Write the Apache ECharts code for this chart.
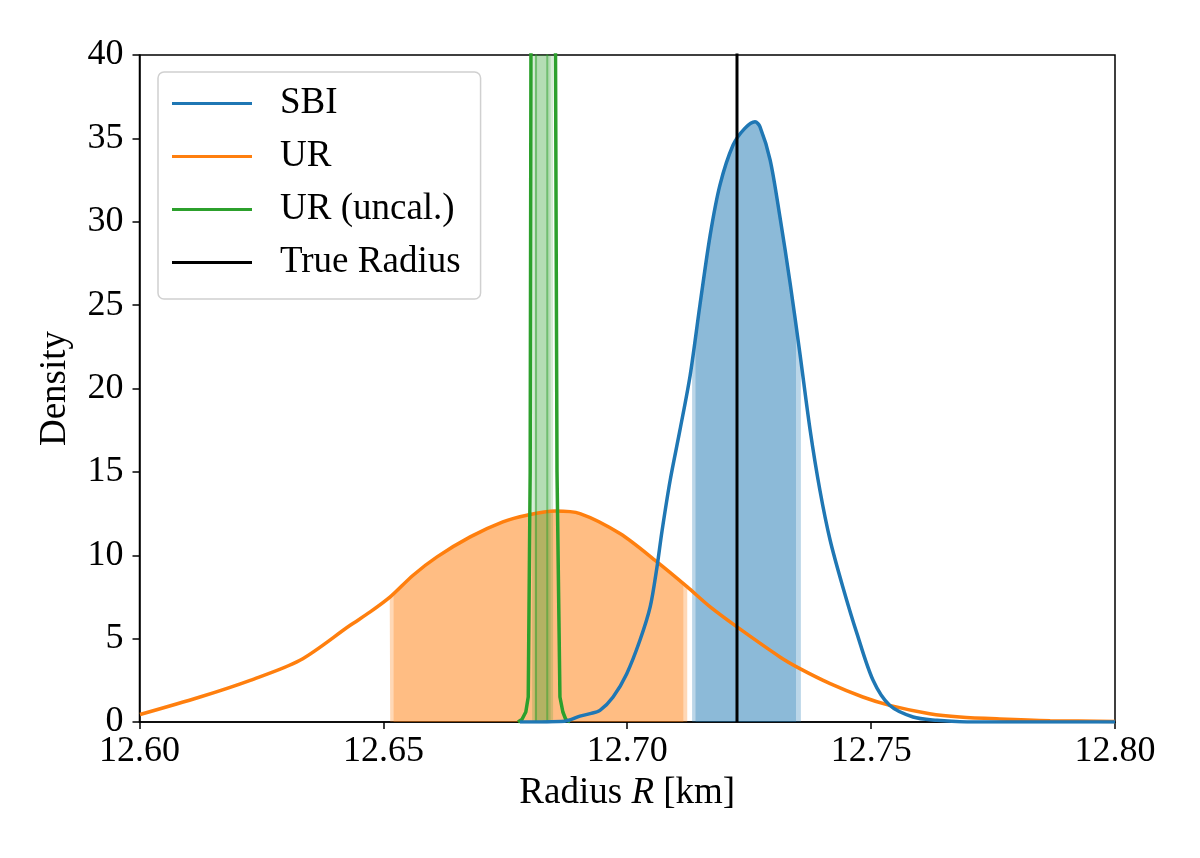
<!DOCTYPE html>
<html>
<head>
<meta charset="utf-8">
<script src="https://cdn.jsdelivr.net/npm/echarts@6/dist/echarts.min.js"></script>
<style>
  html, body { margin: 0; padding: 0; background: #fff; }
  #main { width: 1200px; height: 858px; }
</style>
</head>
<body>
<div id="main"></div>
<script>
// x ticks
var xTicks = [12.60, 12.65, 12.70, 12.75, 12.80];

// SBI density curve
var sbiR = [12.6780, 12.6872, 12.6903, 12.6924, 12.6944, 12.6971, 12.6999, 12.7026, 12.7047, 12.7061,
            12.7071, 12.7088, 12.7108, 12.7129, 12.7149, 12.7170, 12.7190, 12.7217, 12.7241, 12.7262,
            12.7272, 12.7293, 12.7313, 12.7334, 12.7354, 12.7375, 12.7395, 12.7416, 12.7442, 12.7471,
            12.7504, 12.7538, 12.7586, 12.7635, 12.7682, 12.7764, 12.8000];
var sbiD = [0, 0.05, 0.35, 0.5, 0.7, 1.5, 2.9, 4.9, 6.9, 9.3,
            11.4, 14.5, 17.5, 20.8, 25.0, 29.2, 32.2, 34.6, 35.6, 36.0,
            35.7, 33.7, 30.3, 26.3, 22.1, 17.5, 13.9, 10.9, 8.1, 5.3,
            2.5, 1.0, 0.3, 0.1, 0.02, 0, 0];
// SBI interval fills: [left R, left D, right R, right D]
var sbiBandWide = [12.7133, 21.6, 12.7356, 21.7];
var sbiBandNarrow = [12.7140, 23.2, 12.7346, 23.7];

// UR density curve
var urR = [12.6001, 12.6124, 12.6227, 12.6329, 12.6432, 12.6473, 12.6514, 12.6561, 12.6610, 12.6678,
           12.6745, 12.6794, 12.6852, 12.6903, 12.6985, 12.7061, 12.7123, 12.7170, 12.7225, 12.7313,
           12.7354, 12.7416, 12.7483, 12.7538, 12.7620, 12.7682, 12.7764, 12.7867, 12.8000];
var urD = [0.45, 1.5, 2.5, 3.7, 5.8, 6.6, 7.5, 8.8, 9.9, 11.1,
           12.0, 12.4, 12.65, 12.5, 11.3, 9.6, 8.1, 6.9, 5.7, 3.9,
           3.2, 2.3, 1.5, 1.0, 0.5, 0.3, 0.18, 0.08, 0.03];
var urBandWide = [12.6513, 7.45, 12.7123, 8.1];
var urBandNarrow = [12.6521, 7.7, 12.7115, 8.3];

// UR (uncal.) - very narrow peak, runs far above the top of the axis
var ucR = [12.6776, 12.6784, 12.6792, 12.6797, 12.6801, 12.6805, 12.6848, 12.6856, 12.6862, 12.6868, 12.6874, 12.6883];
var ucD = [0, 0.15, 0.6, 1.5, 15, 80, 80, 15, 1.5, 0.6, 0.15, 0];
var ucInner = [12.6813, 12.6836];
var ucBandWide = [12.6805, 80, 12.6848, 80];
var ucBandNarrow = [12.6810, 80, 12.6843, 80];

// true radius
var trueR = 12.7225;

var blue = '#1f77b4', orange = '#ff7f0e', green = '#2ca02c';
var serif = '"Liberation Serif", "Times New Roman", serif';

function pairs(xs, ys) {
  return xs.map(function (x, i) { return [x, ys[i]]; });
}
function band(xs, ys, b) {
  var out = [[b[0], b[1]]];
  xs.forEach(function (x, i) { if (x > b[0] && x < b[2]) out.push([x, ys[i]]); });
  out.push([b[2], b[3]]);
  return out;
}
function fill(name, data, color, op) {
  return {
    name: name, type: 'line', data: data, showSymbol: false, smooth: 0.3,
    lineStyle: { width: 0 }, areaStyle: { color: color, opacity: op },
    silent: true, z: 1
  };
}

var option = {
  animation: false,
  grid: {
    left: 139.5, right: 85, top: 55, bottom: 136,
    show: true, borderColor: '#000', borderWidth: 1.5
  },
  legend: {
    data: ['SBI', 'UR', 'UR (uncal.)', 'True Radius'],
    orient: 'vertical',
    left: 158, top: 72,
    padding: [13, 20, 18, 14],
    itemWidth: 80, itemHeight: 3, itemGap: 16,
    icon: 'rect',
    backgroundColor: 'rgba(255,255,255,0.8)',
    borderColor: '#d0d0d0', borderWidth: 1.5, borderRadius: 6,
    textStyle: { fontFamily: serif, fontSize: 37, color: '#000', lineHeight: 37, padding: [0, 0, 0, 23] }
  },
  xAxis: {
    type: 'value', min: 12.6, max: 12.8, interval: 0.05,
    name: '{a|Radius }{i|R}{a| [km]}',
    nameLocation: 'middle', nameGap: 52,
    nameTextStyle: {
      rich: {
        a: { fontFamily: serif, fontSize: 37, color: '#000' },
        i: { fontFamily: serif, fontSize: 37, color: '#000', fontStyle: 'italic' }
      }
    },
    axisLine: { lineStyle: { color: '#000', width: 1.5 } },
    axisTick: { length: 7, lineStyle: { color: '#000', width: 1.5 } },
    axisLabel: {
      fontFamily: serif, fontSize: 36, color: '#000', margin: 12,
      formatter: function (v) { return v.toFixed(2); }
    },
    splitLine: { show: false }
  },
  yAxis: {
    type: 'value', min: 0, max: 40, interval: 5,
    name: 'Density', nameLocation: 'middle', nameGap: 66, nameRotate: 90,
    nameTextStyle: { fontFamily: serif, fontSize: 37, color: '#000' },
    axisLine: { lineStyle: { color: '#000', width: 1.5 } },
    axisTick: { length: 7, lineStyle: { color: '#000', width: 1.5 } },
    axisLabel: { fontFamily: serif, fontSize: 36, color: '#000', margin: 16 },
    splitLine: { show: false }
  },
  series: [
    fill('urFill1', band(urR, urD, urBandWide), orange, 0.3),
    fill('urFill2', band(urR, urD, urBandNarrow), orange, 0.3),
    fill('sbiFill1', band(sbiR, sbiD, sbiBandWide), blue, 0.3),
    fill('sbiFill2', band(sbiR, sbiD, sbiBandNarrow), blue, 0.3),
    {
      name: 'ucFill1', type: 'line', showSymbol: false, silent: true, z: 1,
      data: [[ucBandWide[0], ucBandWide[1]], [ucBandWide[2], ucBandWide[3]]],
      lineStyle: { width: 0 }, areaStyle: { color: green, opacity: 0.2 }
    },
    {
      name: 'ucFill2', type: 'line', showSymbol: false, silent: true, z: 1,
      data: [[ucBandNarrow[0], ucBandNarrow[1]], [ucBandNarrow[2], ucBandNarrow[3]]],
      lineStyle: { width: 0 }, areaStyle: { color: green, opacity: 0.2 }
    },
    {
      name: 'UR', type: 'line', data: pairs(urR, urD), showSymbol: false, smooth: 0.3,
      color: orange, lineStyle: { color: orange, width: 3.5 }, z: 3
    },
    {
      name: 'ucInner1', type: 'line', showSymbol: false, silent: true, z: 3,
      data: [[ucInner[0], 0], [ucInner[0], 80]],
      lineStyle: { color: green, width: 2, opacity: 0.5 }
    },
    {
      name: 'ucInner2', type: 'line', showSymbol: false, silent: true, z: 3,
      data: [[ucInner[1], 0], [ucInner[1], 80]],
      lineStyle: { color: green, width: 2, opacity: 0.5 }
    },
    {
      name: 'UR (uncal.)', type: 'line', data: pairs(ucR, ucD), showSymbol: false,
      color: green, lineStyle: { color: green, width: 3.5 }, z: 4
    },
    {
      name: 'SBI', type: 'line', data: pairs(sbiR, sbiD), showSymbol: false, smooth: 0.3,
      color: blue, lineStyle: { color: blue, width: 3.5 }, z: 5
    },
    {
      name: 'True Radius', type: 'line', data: [[trueR, 0], [trueR, 45]], showSymbol: false,
      color: '#000', lineStyle: { color: '#000', width: 3 }, z: 6
    }
  ]
};

var myChart = echarts.init(document.getElementById('main'));
myChart.setOption(option);
</script>
</body>
</html>
